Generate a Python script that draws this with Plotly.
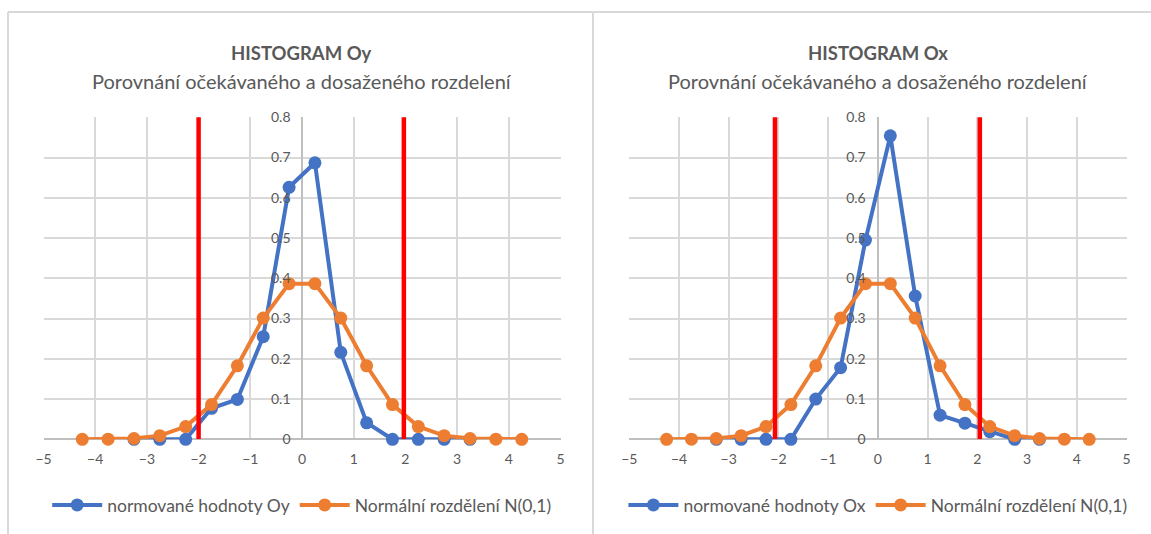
import plotly.graph_objects as go

# ---- data ----
x_bins = [-4.25, -3.75, -3.25, -2.75, -2.25, -1.75, -1.25, -0.75, -0.25,
          0.25, 0.75, 1.25, 1.75, 2.25, 2.75, 3.25, 3.75, 4.25]
normal_pdf = [0.0000, 0.0004, 0.0020, 0.0091, 0.0317, 0.0863, 0.1826, 0.3011, 0.3867,
              0.3867, 0.3011, 0.1826, 0.0863, 0.0317, 0.0091, 0.0020, 0.0004, 0.0000]

x_obs = [-3.25, -2.75, -2.25, -1.75, -1.25, -0.75, -0.25, 0.25, 0.75, 1.25, 1.75, 2.25, 2.75, 3.25]
oy_values = [0.0, 0.0, 0.0, 0.077, 0.099, 0.255, 0.626, 0.687, 0.216, 0.041, 0.0, 0.0, 0.0, 0.0]
ox_values = [0.0, 0.0, 0.0, 0.0, 0.100, 0.178, 0.495, 0.754, 0.356, 0.060, 0.040, 0.019, 0.0, 0.0]

oy_limits = [-2.0, 1.97]
ox_limits = [-2.07, 2.05]
limit_y = [0.0, 0.805]

titles = ["HISTOGRAM Oy", "HISTOGRAM Ox"]
subtitle = "Porovnání očekávaného a dosaženého rozdelení"
blue_names = ["normované hodnoty Oy", "normované hodnoty Ox"]
orange_name = "Normální rozdělení N(0,1)"

x_ticks = [-5, -4, -3, -2, -1, 0, 1, 2, 3, 4, 5]
y_ticks = [0, 0.1, 0.2, 0.3, 0.4, 0.5, 0.6, 0.7, 0.8]

# ---- style ----
BLUE = "#4472c4"
ORANGE = "#ed7d31"
RED = "#ff0000"
GRID = "#d9d9d9"
AXIS = "#bfbfbf"
TXT = "#595959"
FONT = "Lato"
W, H = 1151, 534

fig = go.Figure()

panels = [
    dict(xa="x", ya="y", legend="legend", obs=oy_values, lim=oy_limits, name=blue_names[0]),
    dict(xa="x2", ya="y2", legend="legend2", obs=ox_values, lim=ox_limits, name=blue_names[1]),
]

for p in panels:
    fig.add_trace(go.Scatter(
        x=x_obs, y=p["obs"], xaxis=p["xa"], yaxis=p["ya"], legend=p["legend"],
        name=p["name"], mode="lines+markers", cliponaxis=False,
        line=dict(color=BLUE, width=4), marker=dict(color=BLUE, size=13)))
    fig.add_trace(go.Scatter(
        x=x_bins, y=normal_pdf, xaxis=p["xa"], yaxis=p["ya"], legend=p["legend"],
        name=orange_name, mode="lines+markers", cliponaxis=False,
        line=dict(color=ORANGE, width=4), marker=dict(color=ORANGE, size=13)))
    for lx in p["lim"]:
        fig.add_trace(go.Scatter(
            x=[lx, lx], y=limit_y, xaxis=p["xa"], yaxis=p["ya"], mode="lines",
            cliponaxis=False, showlegend=False, hoverinfo="skip",
            line=dict(color=RED, width=4.5)))

left_dom = [43.5 / W, 560.5 / W]
right_dom = [629.3 / W, 1126.5 / W]
y_dom = [(H - 439.3) / H, (H - 117.3) / H]

def xaxis(dom, anchor):
    return dict(domain=dom, anchor=anchor, range=[-5, 5], tickvals=x_ticks,
                showgrid=True, gridcolor=GRID, gridwidth=1.5,
                zeroline=True, zerolinecolor=AXIS, zerolinewidth=1.8,
                showline=False, ticks="", ticklabelstandoff=10,
                tickfont=dict(family=FONT, size=14, color=TXT), fixedrange=True)

def yaxis(pos):
    return dict(domain=y_dom, anchor="free", position=pos, range=[0, 0.8],
                tickvals=y_ticks, showgrid=True, gridcolor=GRID, gridwidth=1.5,
                zeroline=True, zerolinecolor=AXIS, zerolinewidth=1.8,
                showline=False, ticks="", ticklabelstandoff=12,
                tickfont=dict(family=FONT, size=14, color=TXT), fixedrange=True)

cx_left = 301.7 / W
cx_right = 877.9 / W

fig.update_layout(
    width=W, height=H, margin=dict(l=0, r=0, t=0, b=0, pad=0, autoexpand=False),
    paper_bgcolor="white", plot_bgcolor="white",
    font=dict(family=FONT, color=TXT),
    xaxis=xaxis(left_dom, "y"),
    yaxis=yaxis(302.5 / W),
    xaxis2=xaxis(right_dom, "y2"),
    yaxis2=yaxis(877.7 / W),
    legend=dict(orientation="h", x=cx_left, xanchor="center", y=(H - 505) / H, yanchor="middle",
                font=dict(family=FONT, size=17.5, color=TXT), itemwidth=50,
                bgcolor="rgba(0,0,0,0)"),
    legend2=dict(orientation="h", x=cx_right, xanchor="center", y=(H - 505) / H, yanchor="middle",
                 font=dict(family=FONT, size=17.5, color=TXT), itemwidth=50,
                 bgcolor="rgba(0,0,0,0)"),
    showlegend=True,
    hovermode=False,
)

for cx, t in zip([cx_left, cx_right], titles):
    fig.add_annotation(x=cx, y=(H - 53.5) / H, xref="paper", yref="paper", showarrow=False,
                       text="<b>" + t + "</b>", xanchor="center", yanchor="middle",
                       font=dict(family=FONT, size=18.5, color=TXT))
    fig.add_annotation(x=cx, y=(H - 81) / H, xref="paper", yref="paper", showarrow=False,
                       text=subtitle, xanchor="center", yanchor="middle",
                       font=dict(family=FONT, size=20, color=TXT))

# chart-area borders
border = dict(color=GRID, width=2)
fig.add_shape(type="line", xref="paper", yref="paper", x0=8 / W, x1=1, y0=(H - 12) / H, y1=(H - 12) / H, line=border)
fig.add_shape(type="line", xref="paper", yref="paper", x0=8 / W, x1=8 / W, y0=0, y1=(H - 12) / H, line=border)
fig.add_shape(type="line", xref="paper", yref="paper", x0=593 / W, x1=593 / W, y0=0, y1=(H - 12) / H, line=border)

fig.write_html(
    "out.html",
    config={"displayModeBar": False},
    post_script="document.body.style.margin='0px';document.body.style.overflow='hidden';",
)
